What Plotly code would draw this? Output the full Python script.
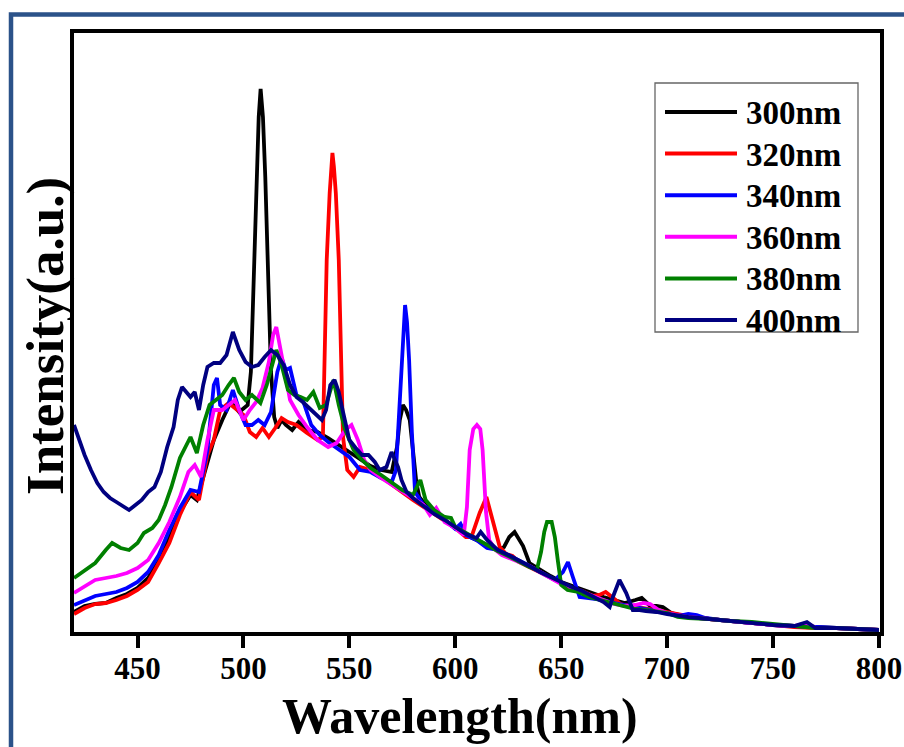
import plotly.graph_objects as go

# ---------------- data ----------------
wl_300 = [420, 425, 430, 435, 440, 445, 450, 455, 460, 465, 470, 475, 478, 482, 486, 490, 494, 498, 502, 503.5, 505, 506.3, 507.2, 508.1, 509.2, 510.3, 511.5, 513, 514.5, 516, 518, 520, 523, 526, 530, 535, 540, 545, 550, 555, 560, 565, 570, 572.5, 573.8, 575.3, 576.8, 578.5, 580, 581.6, 583, 586, 590, 595, 600, 605, 610, 615, 620, 623, 625.5, 628, 630, 632, 635, 640, 645, 650, 655, 660, 665, 670, 675, 680, 685, 688, 692, 695, 698, 702, 710, 720, 730, 740, 750, 760, 770, 780, 790, 800]
int_300 = [20, 26, 28, 29, 34, 38, 44, 54, 72, 95, 120, 137, 132, 162, 192, 212, 230, 220, 227, 260, 370, 455, 515, 543, 515, 455, 370, 260, 215, 204, 212, 207, 202, 210, 202, 200, 194, 187, 180, 172, 166, 162, 160, 185, 212, 227, 222, 212, 185, 150, 135, 127, 120, 112, 105, 97, 92, 87, 82, 85, 95, 100, 93, 86, 69, 62, 56, 50, 46, 42, 38, 35, 32, 29, 32, 34, 26, 26, 25, 19, 15, 13, 11, 9, 7, 6, 5, 4, 3, 2]

wl_320 = [420, 425, 430, 435, 440, 445, 450, 455, 460, 465, 470, 475, 479, 483, 486, 489, 493, 497, 500, 503, 506, 509, 512, 515, 518, 521, 525, 530, 535, 537.5, 538.3, 539.3, 540.7, 541.4, 542.0, 542.7, 543.6, 545.0, 546.1, 547, 549, 552, 555, 560, 565, 570, 575, 580, 585, 590, 595, 600, 605, 607.6, 611.5, 614.7, 617.6, 621, 624, 627, 630, 635, 640, 645, 650, 655, 660, 665, 668, 671, 674, 678, 682, 690, 695, 700, 710, 720, 730, 740, 750, 760, 770, 780, 790, 800]
int_320 = [18, 24, 28, 29, 32, 36, 42, 50, 69, 89, 117, 140, 132, 177, 192, 222, 229, 222, 217, 200, 195, 204, 195, 204, 214, 210, 207, 199, 192, 195, 272, 372, 439, 465, 479, 465, 439, 372, 272, 195, 162, 155, 165, 162, 155, 147, 140, 132, 125, 118, 112, 104, 95, 95, 119, 135, 112, 85, 78, 76, 70, 65, 60, 55, 49, 44, 41, 36, 37, 40, 35, 28, 26, 24, 22, 20, 16, 13, 11, 9, 7, 5, 4, 4, 3, 2]

wl_340 = [420, 425, 430, 435, 440, 445, 450, 455, 460, 465, 470, 475, 479, 483, 486, 487.5, 489, 492, 495, 498, 501, 504, 507, 510, 513, 516, 518, 520, 522, 525, 528, 532, 536, 540, 545, 550, 555, 560, 565, 570, 572, 573.5, 574.7, 575.5, 576.3, 577.2, 578.2, 579.5, 581, 585, 590, 595, 600, 602.5, 605, 610, 615, 620, 625, 630, 635, 640, 644, 646.9, 650.8, 653.2, 655.5, 658.7, 663, 670, 675, 680, 685, 690, 695, 700, 705, 710, 714, 718, 725, 730, 740, 750, 760, 770, 780, 790, 800]
int_340 = [27, 32, 36, 38, 40, 44, 50, 60, 77, 102, 124, 142, 140, 182, 247, 254, 227, 222, 242, 222, 207, 207, 212, 207, 220, 260, 274, 262, 264, 237, 232, 207, 197, 190, 182, 175, 162, 160, 154, 150, 162, 220, 272, 310, 327, 310, 272, 200, 140, 127, 120, 112, 103, 108, 97, 92, 84, 82, 77, 72, 66, 60, 55, 52, 60, 70, 55, 35, 34, 32, 29, 27, 25, 23, 21, 19, 16, 18, 17, 14, 12, 11, 9, 7, 6, 5, 4, 3, 2]

wl_360 = [420, 425, 430, 435, 440, 445, 450, 455, 460, 465, 470, 474, 477, 480, 483, 486, 490, 493, 496, 500, 503, 506, 509, 512, 514, 515.5, 517, 519, 522, 526, 530, 535, 540, 544, 548, 551, 554, 557, 560, 565, 570, 575, 580, 585, 588, 591, 595, 600, 604, 605.5, 606.8, 608.5, 610.2, 611.8, 612.9, 614.5, 616, 619, 622, 626, 630, 635, 640, 645, 650, 655, 660, 665, 670, 675, 680, 685, 689, 692, 696, 700, 710, 720, 730, 740, 750, 760, 766, 770, 780, 790, 800]
int_360 = [39, 45, 52, 54, 56, 59, 64, 72, 89, 110, 135, 160, 167, 155, 192, 222, 222, 227, 232, 212, 222, 230, 244, 270, 297, 305, 287, 265, 232, 217, 205, 192, 185, 189, 202, 207, 192, 172, 162, 154, 147, 140, 134, 127, 117, 124, 110, 104, 97, 125, 182, 203, 207, 203, 182, 120, 92, 82, 77, 74, 70, 66, 60, 54, 48, 44, 40, 35, 32, 28, 26, 27, 29, 28, 22, 19, 15, 13, 11, 9, 7, 6, 9, 4, 4, 3, 2]

wl_380 = [420, 425, 430, 435, 438, 442, 446, 450, 453, 457, 460, 463, 466, 470, 473, 475, 478, 481, 484, 487, 490, 493, 495.5, 498, 501, 504, 508, 511, 513, 515.5, 518, 521, 524, 527, 530, 533, 536, 539, 542.5, 545, 548, 552, 556, 560, 565, 570, 575, 580, 583.5, 586, 590, 595, 598, 600, 605, 610, 615, 620, 625, 630, 635, 638.5, 640.5, 642, 643.3, 645.5, 647, 648.5, 650, 653, 658, 663, 670, 675, 680, 685, 690, 700, 705, 710, 720, 730, 740, 750, 760, 770, 780, 790, 800]
int_380 = [54, 62, 69, 82, 89, 84, 82, 89, 99, 104, 112, 127, 145, 174, 187, 195, 179, 207, 227, 232, 237, 247, 254, 240, 232, 237, 229, 247, 262, 282, 267, 242, 237, 235, 232, 240, 224, 227, 252, 227, 202, 182, 172, 164, 157, 150, 142, 137, 152, 132, 122, 115, 114, 105, 99, 92, 86, 81, 76, 70, 65, 62, 80, 100, 110, 110, 95, 70, 47, 42, 40, 35, 31, 28, 25, 23, 22, 19, 15, 14, 13, 11, 10, 8, 6, 4, 4, 3, 2]

wl_400 = [420, 422, 425, 428, 431, 434, 437, 440, 443, 446, 449, 452, 455, 458, 461, 464, 467, 469, 471, 473, 475, 477, 479, 481, 483, 486, 489, 492, 495, 498, 501, 504, 507, 510, 513, 516, 519, 522, 525, 528, 531, 534, 537, 539, 541, 543, 545, 547, 550, 553, 556, 559, 562, 564.3, 567.5, 569.9, 573, 574.6, 577, 580, 585, 590, 595, 600, 605, 610, 612, 615, 620, 625, 630, 635, 640, 645, 650, 655, 660, 665, 670, 672.9, 674.4, 677.5, 680.7, 683.8, 687, 690, 695, 700, 710, 720, 730, 740, 750, 760, 766, 770, 780, 790, 800]
int_400 = [207, 194, 177, 162, 149, 140, 134, 130, 126, 122, 127, 132, 140, 145, 160, 185, 205, 232, 245, 240, 235, 240, 222, 247, 265, 269, 269, 277, 300, 282, 270, 265, 267, 275, 282, 277, 267, 247, 235, 230, 224, 217, 212, 222, 247, 252, 240, 220, 192, 184, 177, 177, 170, 162, 165, 180, 165, 152, 140, 134, 126, 118, 112, 105, 98, 94, 100, 92, 82, 77, 72, 66, 60, 55, 49, 45, 41, 36, 30, 25, 35, 52, 39, 22, 22, 21, 20, 18, 15, 13, 11, 9, 7, 6, 10, 4, 4, 3, 2]

series_names = ["300nm", "320nm", "340nm", "360nm", "380nm", "400nm"]
x_ticks = [450, 500, 550, 600, 650, 700, 750, 800]

# ---------------- styling ----------------
colors = ["#000000", "#FF0000", "#0000FF", "#FF00FF", "#008000", "#000080"]
wls = [wl_300, wl_320, wl_340, wl_360, wl_380, wl_400]
ints = [int_300, int_320, int_340, int_360, int_380, int_400]

W, H = 904, 747
L, R, T, B = 74, 24, 33, 115
PW = W - L - R
PH = H - T - B


def pxx(x):
    return (x - L) / PW


def pxy(y):
    return (H - B - y) / PH


FONT = "Liberation Serif"

fig = go.Figure()
for name, x, y, c in zip(series_names, wls, ints, colors):
    fig.add_trace(go.Scatter(x=x, y=y, mode="lines", name=name,
                             line=dict(color=c, width=3.8), showlegend=False))

shapes = []
annotations = []

# outer blue frame
shapes.append(dict(type="rect", xref="paper", yref="paper",
                   x0=pxx(11), x1=pxx(930), y0=pxy(770), y1=pxy(14.5),
                   line=dict(color="#2B5289", width=4.5), fillcolor="rgba(0,0,0,0)", layer="above"))

# legend box
shapes.append(dict(type="rect", xref="paper", yref="paper",
                   x0=pxx(655), x1=pxx(858), y0=pxy(332), y1=pxy(83),
                   line=dict(color="#666666", width=1.3), fillcolor="white", layer="above"))
for i, (name, c) in enumerate(zip(series_names, colors)):
    row = 112 + 41.6 * i
    shapes.append(dict(type="line", xref="paper", yref="paper",
                       x0=pxx(665), x1=pxx(737), y0=pxy(row), y1=pxy(row),
                       line=dict(color=c, width=4), layer="above"))
    annotations.append(dict(text=name, xref="paper", yref="paper",
                            x=pxx(744), y=pxy(row + 1), xanchor="left", yanchor="middle",
                            showarrow=False,
                            font=dict(family=FONT, size=33, color="black", weight="bold")))

# axis titles
annotations.append(dict(text="Wavelength(nm)", xref="paper", yref="paper",
                        x=pxx(460), y=pxy(716), xanchor="center", yanchor="middle",
                        showarrow=False,
                        font=dict(family=FONT, size=50, color="black", weight="bold")))
annotations.append(dict(text="Intensity(a.u.)", xref="paper", yref="paper",
                        x=pxx(45), y=pxy(336), xanchor="center", yanchor="middle",
                        textangle=-90, showarrow=False,
                        font=dict(family=FONT, size=53, color="black", weight="bold")))

fig.update_layout(
    width=W, height=H,
    margin=dict(l=L, r=R, t=T, b=B, autoexpand=False),
    paper_bgcolor="white", plot_bgcolor="white",
    shapes=shapes, annotations=annotations,
    xaxis=dict(range=[420, 800.5], tickvals=x_ticks, ticks="outside", ticklen=12,
               tickwidth=4, tickcolor="black", showline=True, linewidth=4,
               linecolor="black", mirror=True, showgrid=False, zeroline=False,
               automargin=False, ticklabelstandoff=-6,
               tickfont=dict(family=FONT, size=31, color="black", weight="bold")),
    yaxis=dict(range=[0, 599], showticklabels=False, ticks="", showline=True,
               linewidth=4, linecolor="black", mirror=True, showgrid=False,
               zeroline=False, automargin=False),
)

fig.write_html("out.html")
